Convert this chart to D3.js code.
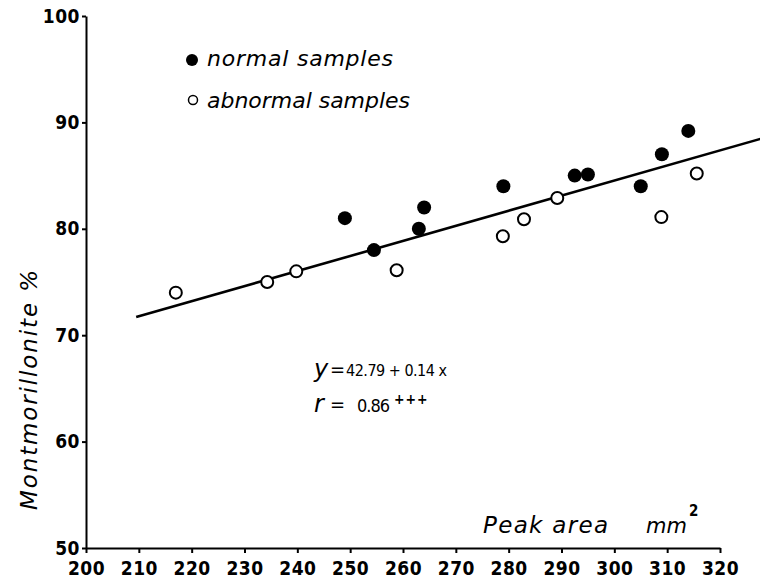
<!DOCTYPE html>
<html>
<head>
<meta charset="utf-8">
<script src="https://cdn.jsdelivr.net/npm/d3@7"></script>
<style>
    body { margin: 0; background: #fff; }
    .axis path, .axis line { stroke: #000; stroke-width: 2; }
    .axis text { font-family: "Liberation Sans Narrow", "DejaVu Sans Condensed", sans-serif; font-weight: bold; fill: #000; }
    .lettering { font-family: "DejaVu Sans", sans-serif; font-style: italic; fill: #000; }
    .numbers { font-family: "Liberation Sans Narrow", "DejaVu Sans Condensed", sans-serif; fill: #000; }
</style>
</head>
<body>
<svg id="chart" width="760" height="578"></svg>
<script>

var X_TICKS = [200, 210, 220, 230, 240, 250, 260, 270, 280, 290, 300, 310, 320];
var Y_TICKS = [50, 60, 70, 80, 90, 100];

var NORMAL_X = [249, 254.5, 263, 264, 279, 292.5, 295, 305, 309, 314];
var NORMAL_Y = [81, 78, 80, 82, 84, 85, 85.1, 84, 87, 89.2];

var ABNORMAL_X = [217, 234.3, 239.8, 258.8, 278.9, 282.9, 289.2, 308.9, 315.6];
var ABNORMAL_Y = [74, 75, 76, 76.1, 79.3, 80.9, 82.9, 81.1, 85.2];

/* regression line ends */
var FIT_X = [209.5, 328];
var FIT_Y = [71.7, 88.5];

var LEGEND_LABELS = ["normal samples", "abnormal samples"];

var svg = d3.select("#chart");
var margin = {top: 16, right: 40, bottom: 30, left: 86};
var width = 760 - margin.left - margin.right;
var height = 578 - margin.top - margin.bottom;

var x = d3.scaleLinear().domain([200, 320]).range([margin.left, margin.left + width]);
var y = d3.scaleLinear().domain([50, 100]).range([margin.top + height, margin.top]);

svg.append("rect").attr("width", 760).attr("height", 578).attr("fill", "#fff");

/* axes */
svg.append("g")
    .attr("class", "axis axis--x")
    .attr("transform", "translate(0," + y(50) + ")")
    .call(d3.axisBottom(x).tickValues(X_TICKS).tickFormat(d3.format("d")).tickSize(5).tickSizeOuter(0).tickPadding(9))
    .selectAll("text").style("font-size", "19px");

svg.append("g")
    .attr("class", "axis axis--y")
    .attr("transform", "translate(" + x(200) + ",0)")
    .call(d3.axisLeft(y).tickValues(Y_TICKS).tickFormat(d3.format("d")).tickSize(4).tickSizeOuter(0).tickPadding(2))
    .selectAll("text").style("font-size", "19px");

svg.selectAll(".axis text").attr("letter-spacing", 0.5);

/* regression line */
var fit = FIT_X.map(function(d, i){ return [d, FIT_Y[i]]; });
svg.append("path")
    .attr("d", d3.line().x(function(d){ return x(d[0]); }).y(function(d){ return y(d[1]); })(fit))
    .attr("fill", "none")
    .attr("stroke", "#000")
    .attr("stroke-width", 2.6);

/* points */
svg.selectAll(".abnormal")
    .data(ABNORMAL_X.map(function(d, i){ return [d, ABNORMAL_Y[i]]; }))
    .enter().append("circle")
    .classed("abnormal", true)
    .attr("cx", function(d){ return x(d[0]); })
    .attr("cy", function(d){ return y(d[1]); })
    .attr("r", 6)
    .attr("fill", "#fff")
    .attr("stroke", "#000")
    .attr("stroke-width", 2);

svg.selectAll(".normal")
    .data(NORMAL_X.map(function(d, i){ return [d, NORMAL_Y[i]]; }))
    .enter().append("circle")
    .classed("normal", true)
    .attr("cx", function(d){ return x(d[0]); })
    .attr("cy", function(d){ return y(d[1]); })
    .attr("r", 7)
    .attr("fill", "#000");

/* legend */
svg.append("circle").attr("cx", 192).attr("cy", 60).attr("r", 6).attr("fill", "#000");
svg.append("circle").attr("cx", 193).attr("cy", 100).attr("r", 4.5)
    .attr("fill", "#fff").attr("stroke", "#000").attr("stroke-width", 1.5);

svg.append("text").attr("class", "lettering")
    .attr("x", 207).attr("y", 66)
    .attr("textLength", 186).attr("lengthAdjust", "spacing")
    .style("font-size", "22px")
    .text(LEGEND_LABELS[0]);
svg.append("text").attr("class", "lettering")
    .attr("x", 207).attr("y", 108)
    .attr("textLength", 203).attr("lengthAdjust", "spacing")
    .style("font-size", "22px")
    .text(LEGEND_LABELS[1]);

/* axis titles */
svg.append("text").attr("class", "lettering")
    .attr("transform", "translate(37,390) rotate(-90)")
    .attr("text-anchor", "middle")
    .attr("textLength", 240).attr("lengthAdjust", "spacing")
    .style("font-size", "23px")
    .text("Montmorillonite  %");

svg.append("text").attr("class", "lettering")
    .attr("x", 483).attr("y", 533)
    .attr("textLength", 125).attr("lengthAdjust", "spacing")
    .style("font-size", "23px")
    .text("Peak  area");

var unit = svg.append("text").attr("class", "lettering")
    .attr("x", 646).attr("y", 533)
    .style("font-size", "21px");
unit.append("tspan").text("mm");
unit.append("tspan")
    .attr("dx", 2).attr("dy", -17)
    .style("font-size", "15px").style("font-style", "normal").style("font-weight", "bold")
    .style("font-family", "'Liberation Sans Narrow', 'DejaVu Sans Condensed', sans-serif")
    .text("2");

/* equation */
svg.append("text").attr("class", "lettering").attr("x", 314).attr("y", 377).style("font-size", "24px").text("y");
svg.append("text").attr("class", "numbers").attr("x", 330).attr("y", 376).style("font-size", "20px").text("=");
svg.append("text").attr("class", "numbers").attr("x", 346).attr("y", 376).style("font-size", "16px")
    .attr("textLength", 101).attr("lengthAdjust", "spacing")
    .text("42.79 + 0.14 x");

svg.append("text").attr("class", "lettering").attr("x", 314).attr("y", 412).style("font-size", "24px").text("r");
svg.append("text").attr("class", "numbers").attr("x", 330).attr("y", 411).style("font-size", "20px").text("=");
svg.append("text").attr("class", "numbers").attr("x", 357).attr("y", 412).style("font-size", "18px")
    .attr("textLength", 33).attr("lengthAdjust", "spacing")
    .text("0.86");
svg.append("text").attr("class", "numbers").attr("x", 394).attr("y", 404).style("font-size", "14px").style("font-weight", "bold")
    .attr("letter-spacing", 1)
    .text("+++");

</script>
</body>
</html>
